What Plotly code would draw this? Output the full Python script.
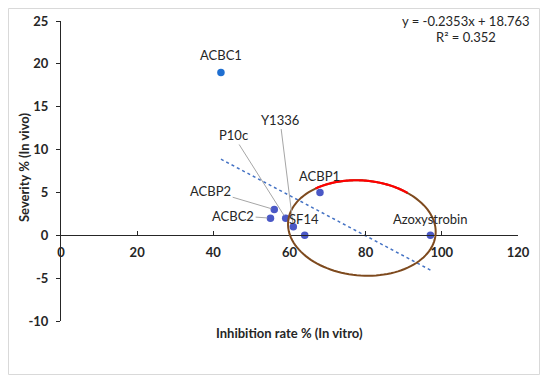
import numpy as np
import plotly.graph_objects as go

# ---- data ----
labels = ["ACBC1", "ACBP1", "ACBP2", "ACBC2", "P10c", "Y1336", "SF14", "Azoxystrobin"]
inhibition = [42, 68, 56, 55, 59, 61, 64, 97]      # x: Inhibition rate % (In vitro)
severity = [19, 5, 3, 2, 2, 1, 0, 0]               # y: Severity % (In vivo)
marker_colors = ["#1F6FD1", "#4A58C6", "#4A58C6", "#4A58C6", "#4A58C6", "#4A58C6", "#4A58C6", "#4A58C6"]
x_ticks = [0, 20, 40, 60, 80, 100, 120]
y_ticks = [-10, -5, 0, 5, 10, 15, 20, 25]

# label placement (data coords of label centre) and whether a leader line is drawn
label_pos = {
    "ACBC1": (42, 21.0, False),
    "ACBP1": (67.8, 6.9, False),
    "ACBP2": (39.3, 5.2, True),
    "ACBC2": (45.2, 2.3, True),
    "P10c": (45.2, 11.7, True),
    "Y1336": (57.5, 13.5, True),
    "SF14": (63.8, 1.9, False),
    "Azoxystrobin": (96.9, 1.9, False),
}

FONT = "Lato"
FS = 13
TXT = "#262626"
OFF = 8                       # page body margin of the html page
W, H = 550 - 2 * OFF, 384 - 2 * OFF
PL, PR, PT, PB = 61, 518, 21, 321   # plot area in page pixels
L, R, T, B = PL - OFF, OFF + W - PR, PT - OFF, OFF + H - PB
XR = [0, 120]
YR = [-10, 25]
pw, ph = PR - PL, PB - PT
sx = pw / (XR[1] - XR[0])
sy = ph / (YR[1] - YR[0])

fig = go.Figure()

# linear trendline (least squares through the data)
slope, intercept = np.polyfit(inhibition, severity, 1)
pred = np.polyval([slope, intercept], inhibition)
ss_res = np.sum((np.array(severity) - pred) ** 2)
ss_tot = np.sum((np.array(severity) - np.mean(severity)) ** 2)
r2 = 1 - ss_res / ss_tot
xt = [min(inhibition), max(inhibition)]
fig.add_trace(go.Scatter(x=xt, y=[slope * v + intercept for v in xt], mode="lines",
                         line=dict(color="#4472C4", width=1.5, dash="dot"),
                         hoverinfo="skip", showlegend=False))

fig.add_trace(go.Scatter(x=inhibition, y=severity, mode="markers",
                         marker=dict(color=marker_colors, size=7.5),
                         text=labels, showlegend=False))

# highlight ellipse (pixel geometry converted to data units)
ecx, ecy = 79.0, 0.85        # centre in data units
ea, eb, etilt = 74, 47.5, -5  # semi-axes in px, tilt in degrees


def ellipse_path(t0, t1, n=120):
    th = np.radians(etilt)
    pts = []
    for t in np.radians(np.linspace(t0, t1, n)):
        dx = ea * np.cos(t) * np.cos(th) - eb * np.sin(t) * np.sin(th)
        dy = ea * np.cos(t) * np.sin(th) + eb * np.sin(t) * np.cos(th)
        pts.append((ecx + dx / sx, ecy + dy / sy))
    return "M " + " L ".join(f"{a:.3f},{b:.3f}" for a, b in pts)


def px_x(p):
    return (p - PL) / pw


def px_y(p):
    return (PB - p) / ph


shapes = [
    dict(type="path", xref="x", yref="y", path=ellipse_path(0, 360) + " Z",
         line=dict(color="#7E4A1E", width=2)),
    dict(type="path", xref="x", yref="y", path=ellipse_path(55, 132),
         line=dict(color="#FF0000", width=2.2)),
    # chart border
    dict(type="rect", xref="paper", yref="paper",
         x0=px_x(OFF + 0.5), x1=px_x(OFF + W - 2.5), y0=px_y(OFF + H - 1.5), y1=px_y(OFF + 0.5),
         line=dict(color="#D9D9D9", width=1)),
]

annotations = []
for name, xv, yv in zip(labels, inhibition, severity):
    lx, ly, leader = label_pos[name]
    if leader:
        annotations.append(dict(x=xv, y=yv, xref="x", yref="y", ax=lx, ay=ly,
                                axref="x", ayref="y", text=name, showarrow=True,
                                arrowhead=0, arrowwidth=1, arrowcolor="#A6A6A6",
                                standoff=3, font=dict(family=FONT, size=FS, color=TXT)))
    else:
        annotations.append(dict(x=lx, y=ly, xref="x", yref="y", text=name, showarrow=False,
                                xanchor="center", yanchor="middle",
                                font=dict(family=FONT, size=FS, color=TXT)))

common = dict(xref="paper", yref="paper", showarrow=False, xanchor="center", yanchor="middle")
annotations.append(dict(x=px_x(466), y=px_y(21), text=f"y = {slope:.4f}x + {intercept:.3f}",
                        font=dict(family=FONT, size=FS, color=TXT), **common))
annotations.append(dict(x=px_x(466), y=px_y(37), text=f"R² = {r2:.3f}",
                        font=dict(family=FONT, size=FS, color=TXT), **common))
annotations.append(dict(x=0.5, y=px_y(333), text="<b>Inhibition rate % (In vitro)</b>",
                        font=dict(family=FONT, size=FS, color=TXT), **common))
annotations.append(dict(x=px_x(24), y=px_y(168), textangle=-90, text="<b>Severity % (In vivo)</b>",
                        font=dict(family=FONT, size=FS, color=TXT), **common))

fig.update_layout(
    width=W, height=H,
    margin=dict(l=L, r=R, t=T, b=B, autoexpand=False),
    paper_bgcolor="white", plot_bgcolor="white",
    showlegend=False,
    shapes=shapes, annotations=annotations,
    xaxis=dict(range=XR, tickvals=x_ticks, ticktext=[str(v) for v in x_ticks],
               showgrid=False, zeroline=False, automargin=False,
               anchor="free", position=(0 - YR[0]) / (YR[1] - YR[0]),
               showline=True, linecolor=TXT, linewidth=1,
               ticks="inside", ticklen=4, tickcolor=TXT, ticklabelstandoff=5,
               tickfont=dict(family=FONT, size=FS, color=TXT, weight="bold")),
    yaxis=dict(range=YR, tickvals=y_ticks, ticktext=[str(v) for v in y_ticks],
               showgrid=False, zeroline=False, automargin=False,
               showline=True, linecolor=TXT, linewidth=1,
               ticks="outside", ticklen=4, tickcolor=TXT, ticklabelstandoff=5,
               tickfont=dict(family=FONT, size=FS, color=TXT, weight="bold")),
)

fig.write_html("out.html")
